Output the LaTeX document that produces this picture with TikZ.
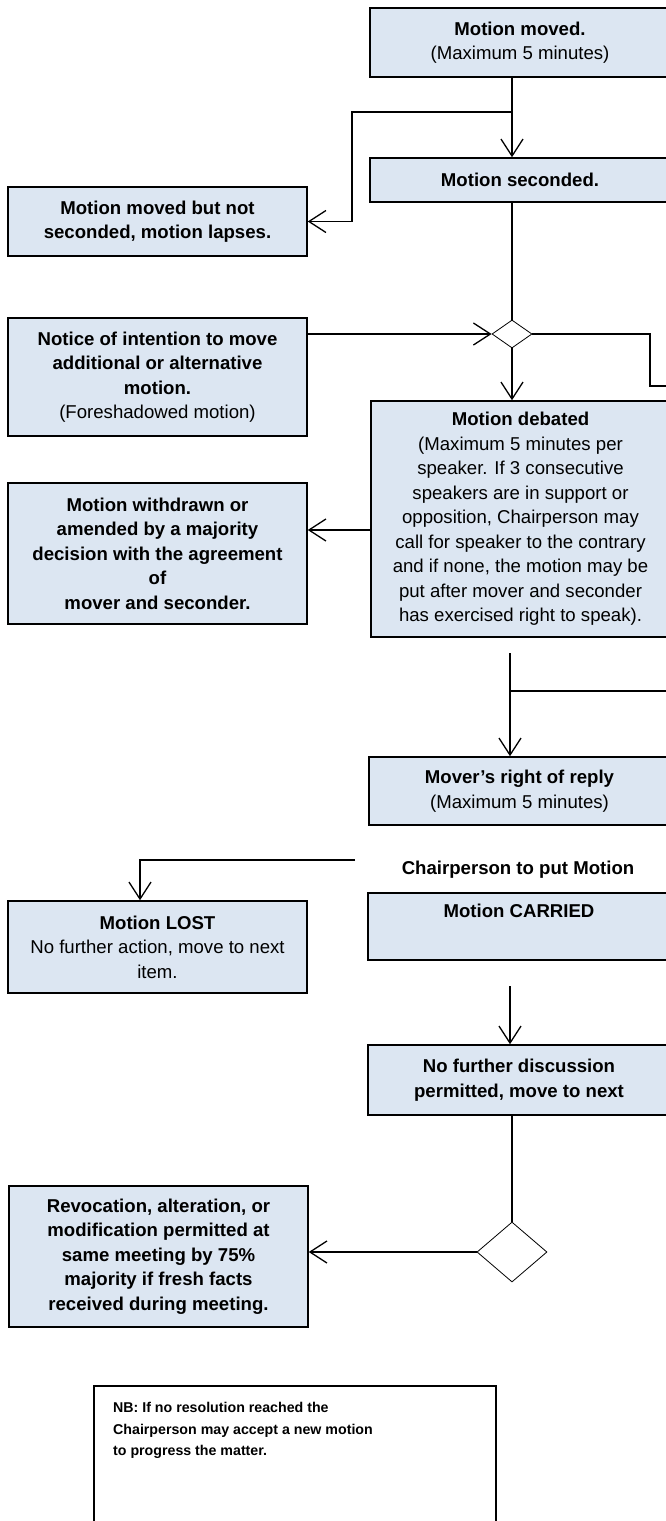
\documentclass[tikz,border=0pt]{standalone}
\usepackage{fontspec}
\setmainfont{Liberation Sans}
\usepackage{tikz}
\usetikzlibrary{arrows.meta,calc,positioning,shapes.geometric}
\definecolor{boxfill}{RGB}{220,230,242}
\newcommand{\boxfont}{\fontsize{18.6}{24.5}\selectfont}
\newcommand{\nbfont}{\fontsize{14.2}{21.7}\selectfont}
\tikzset{
  stepbox/.style={draw=black,line width=1.5pt,fill=boxfill,rectangle,align=center,font=\boxfont,inner sep=0pt,minimum width=299pt},
  boldbox/.style={stepbox,font=\boxfont\bfseries},
  decision/.style={draw=black,line width=0.8pt,fill=white,diamond,inner sep=0pt},
  flow/.style={line width=1.3pt,-{Straight Barb[length=17pt,width=22pt]}},
  link/.style={line width=1.3pt}
}

\begin{document}
\begin{tikzpicture}[x=1pt,y=-1pt]
\path[use as bounding box,clip] (0,0) rectangle (666,1521);

% right column
\node[stepbox,minimum width=300pt,minimum height=69pt] (moved) at (520,42.5) {\textbf{Motion moved.}\\(Maximum 5 minutes)};
\node[boldbox,minimum width=300pt,minimum height=44pt] (seconded) at (520,180) {Motion seconded.};
\node[decision,minimum width=40pt,minimum height=28pt] (d1) at (512,334) {};
\node[stepbox,minimum height=236pt] (debated) at (520.5,519) {\textbf{Motion debated}\\(Maximum 5 minutes per\\speaker. If 3 consecutive\\speakers are in support or\\opposition, Chairperson may\\call for speaker to the contrary\\and if none, the motion may be\\put after mover and seconder\\has exercised right to speak).};
\node[stepbox,minimum width=301pt,minimum height=68pt] (reply) at (519.5,791) {\textbf{Mover’s right of reply}\\(Maximum 5 minutes)};
\node[font=\boxfont\bfseries] (putmotion) at (518,870) {Chairperson to put Motion};
\node[boldbox,minimum width=302pt,minimum height=67pt] (carried) at (519,926.5) {Motion CARRIED\\ \strut};
\node[boldbox,minimum width=302pt,minimum height=70pt] (nodisc) at (519,1080) {No further discussion\\permitted, move to next};
\node[decision,minimum width=70pt,minimum height=60pt] (d2) at (512,1252) {};

% left column
\node[boldbox,minimum height=69pt] (lapses) at (157.5,221.5) {Motion moved but not\\seconded, motion lapses.};
\node[stepbox,minimum height=118pt] (notice) at (157.5,377) {\textbf{Notice of intention to move}\\\textbf{additional or alternative}\\\textbf{motion.}\\(Foreshadowed motion)};
\node[boldbox,minimum height=141pt] (withdrawn) at (157.5,553.5) {Motion withdrawn or\\amended by a majority\\decision with the agreement\\of\\mover and seconder.};
\node[stepbox,minimum height=92pt] (lost) at (157.5,947) {\textbf{Motion LOST}\\No further action, move to next\\item.};
\node[boldbox,minimum height=141pt] (revoc) at (158.5,1256.5) {Revocation, alteration, or\\modification permitted at\\same meeting by 75\%\\majority if fresh facts\\received during meeting.};

\node[draw=black,line width=1.5pt,fill=white,minimum width=402pt,minimum height=160pt,anchor=north west] (nbbox) at (93,1385) {};
\node[anchor=north west,align=left,font=\nbfont\bfseries,inner sep=0pt] (nbtext) at (113,1402) {NB: If no resolution reached the\\Chairperson may accept a new motion\\to progress the matter.};

% connectors
\coordinate (br1) at (512,112);
\coordinate (k1) at (352,112);
\coordinate (k2) at (650,386);
\coordinate (t2) at (371,530);
\coordinate (c3) at (510,653);
\coordinate (br2) at (510,691);
\coordinate (c4) at (355,860);
\coordinate (k4) at (140,860);
\coordinate (c5) at (510,986);

\draw[flow] (moved.south -| d1) -- (seconded.north -| d1);
\draw[flow] (br1) -- (k1) |- (lapses.east);
\draw[link] (seconded.south -| d1) -- (d1.north);
\draw[flow] (d1.west -| notice.east) -- (d1.west);
\draw[link] (d1.east) -| (k2) -- (k2 -| debated.east);
\draw[flow] (d1.south) -- (debated.north -| d1);
\draw[flow] (t2) -- (t2 -| withdrawn.east);

\draw[flow] (c3) -- (reply.north -| c3);
\draw[link] (br2) -- (br2 -| reply.east);
\draw[flow] (c4) -- (k4) -- (k4 |- lost.north);

\draw[flow] (c5) -- (nodisc.north -| c5);
\draw[link] (nodisc.south -| d2) -- (d2.north);
\draw[flow] (d2.west) -- (d2.west -| revoc.east);
\end{tikzpicture}
\end{document}
